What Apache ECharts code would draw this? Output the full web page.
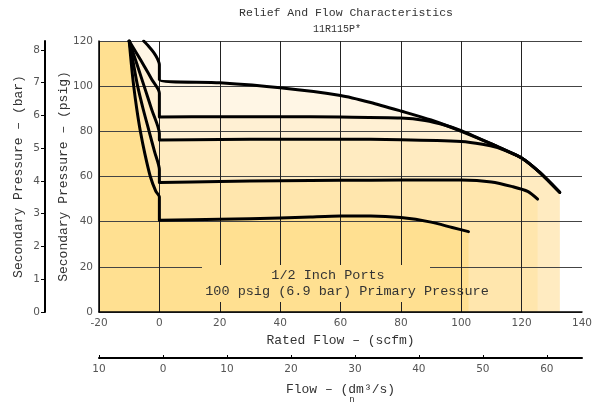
<!DOCTYPE html>
<html>
<head>
<meta charset="utf-8">
<script src="https://cdn.jsdelivr.net/npm/echarts@6/dist/echarts.min.js"></script>
<style>html,body{margin:0;padding:0;background:#fff}#c{width:603px;height:404px}</style>
</head>
<body>
<div id="c"></div>
<script>
// ---- data ----
const curveNames = ['102 psig', '86 psig', '76 psig', '58 psig', '40 psig'];
const flowTop  = [-5.2, -3.5, -1.9, -0.7, 0, 0, 20, 40, 60, 70, 80, 90, 100, 110, 120, 126, 132.6];
const psigTop  = [120, 117.6, 115, 112.3, 109.5, 102.8, 101.5, 99.3, 95.9, 92.8, 89, 85, 80, 74.4, 68.2, 61.8, 53];
const flow86   = [-10, -7.5, -5, -2.5, 0, 0, 20, 40, 60, 80, 88, 95, 100, 110, 120, 126, 132.6];
const psig86   = [120, 114.5, 108.8, 103, 97, 86.3, 86.5, 86.5, 86.3, 85.9, 84.8, 82.6, 80.3, 74.4, 68.2, 61.8, 53];
const flow76   = [-10, -7.5, -5, -2.5, 0, 0, 20, 40, 60, 80, 100, 107, 112, 116, 120, 126, 132.6];
const psig76   = [120, 110, 99.8, 89.5, 79, 76.2, 76.4, 76.5, 76.5, 76.3, 75.5, 74.3, 72.8, 70.7, 68.2, 61.8, 53];
const flow58   = [-10, -8.6, -7.2, -5.4, -3.4, -1.6, 0, 0, 20, 40, 60, 80, 100, 110, 117, 122, 125.3];
const psig58   = [120, 110, 100, 90, 80, 71, 63, 57.3, 57.8, 58.1, 58.3, 58.4, 58.4, 57.6, 55.5, 53.4, 50];
const flow40   = [-10, -9.3, -8.5, -7.5, -6.3, -4.8, -3, -1.2, 0, 0, 20, 40, 50, 60, 70, 80, 90, 97, 102.4];
const psig40   = [120, 110, 100, 90, 80, 70, 60, 53.5, 51, 40.6, 41.1, 41.6, 42.1, 42.5, 42.5, 41.8, 39.8, 37.4, 35.6];
const fillColors = ['#FFF6E5', '#FFF0D3', '#FFEBC1', '#FFE6AD', '#FFE091'];

const scfmTicks = [-20, 0, 20, 40, 60, 80, 100, 120, 140];
const psigTicks = [0, 20, 40, 60, 80, 100, 120];
const barTicks  = [0, 1, 2, 3, 4, 5, 6, 7, 8];
const dm3Ticks  = [-10, 0, 10, 20, 30, 40, 50, 60];
const PSI_PER_BAR = 14.5038;

// ---- build ----
const flows = [flowTop, flow86, flow76, flow58, flow40];
const psigs = [psigTop, psig86, psig76, psig58, psig40];
const pairs = (xs, ys) => xs.map((x, i) => [x, ys[i]]);

const mono = 'Liberation Mono';
const series = [];
flows.forEach((f, k) => {
  series.push({
    type: 'line', name: curveNames[k] + ' area', z: 1, silent: true,
    data: [[scfmTicks[0], psigTicks[psigTicks.length - 1]]].concat(pairs(f, psigs[k])),
    showSymbol: false, smooth: false,
    lineStyle: { width: 0, opacity: 0 },
    areaStyle: { color: fillColors[k], opacity: 1, origin: 'start' }
  });
});
flows.forEach((f, k) => {
  series.push({
    type: 'line', name: curveNames[k], z: 4, silent: true,
    data: pairs(f, psigs[k]),
    showSymbol: false, smooth: 0.25,
    lineStyle: { color: '#000', width: 3, join: 'round', cap: 'round' }
  });
});

const chart = echarts.init(document.getElementById('c'), null, { renderer: 'canvas' });
chart.setOption({
  animation: false,
  backgroundColor: '#fff',
  title: [
    { text: 'Relief And Flow Characteristics', left: 341, top: 2, textAlign: 'center',
      textStyle: { fontFamily: mono, fontSize: 11.5, fontWeight: 'normal', color: '#333' } },
    { text: '11R115P*', left: 332, top: 19, textAlign: 'center',
      textStyle: { fontFamily: mono, fontSize: 10, fontWeight: 'normal', color: '#333' } }
  ],
  grid: { left: 99, right: 21, top: 41, bottom: 92 },
  xAxis: [
    { type: 'value', min: scfmTicks[0], max: scfmTicks[scfmTicks.length - 1], interval: 20, z: 2,
      axisLine: { show: true, onZero: false, lineStyle: { color: '#000', width: 1.5 } },
      axisTick: { show: false },
      splitLine: { show: true, showMaxLine: false, lineStyle: { color: '#222', width: 1 } },
      axisLabel: { color: '#555', fontSize: 10.5, margin: 6, fontFamily: 'DejaVu Sans' },
      name: 'Rated Flow – (scfm)', nameLocation: 'middle', nameGap: 22, nameMoveOverlap: false,
      nameTextStyle: { fontFamily: mono, fontSize: 13, color: '#333' } },
    { type: 'value', position: 'bottom', offset: 46, min: dm3Ticks[0], max: 65.5,
      axisLine: { show: true, onZero: false, lineStyle: { color: '#000', width: 2 } },
      axisTick: { show: true, inside: true, length: 3, customValues: dm3Ticks, lineStyle: { color: '#000' } },
      splitLine: { show: false },
      axisLabel: { customValues: dm3Ticks, color: '#555', fontSize: 10.5, margin: 6, fontFamily: 'DejaVu Sans',
        formatter: v => String(Math.abs(v)) },
      name: 'Flow – (dm³/s)', nameLocation: 'middle', nameGap: 25, nameMoveOverlap: false,
      nameTextStyle: { fontFamily: mono, fontSize: 13, color: '#333' } }
  ],
  yAxis: [
    { type: 'value', min: psigTicks[0], max: psigTicks[psigTicks.length - 1], interval: 20, z: 2,
      axisLine: { show: true, onZero: false, lineStyle: { color: '#000', width: 1.5 } },
      axisTick: { show: false },
      splitLine: { show: true, lineStyle: { color: '#444', width: 1 } },
      axisLabel: { color: '#555', fontSize: 10.5, margin: 6, fontFamily: 'DejaVu Sans' },
      name: 'Secondary Pressure – (psig)', nameLocation: 'middle', nameGap: 29, nameMoveOverlap: false,
      nameTextStyle: { fontFamily: mono, fontSize: 13, color: '#333' } },
    { type: 'value', position: 'left', offset: 54, min: 0, max: psigTicks[psigTicks.length - 1] / PSI_PER_BAR,
      axisLine: { show: true, onZero: false, lineStyle: { color: '#000', width: 2 } },
      axisTick: { show: true, length: 4, customValues: barTicks, lineStyle: { color: '#000' } },
      splitLine: { show: false },
      axisLabel: { customValues: barTicks, color: '#555', fontSize: 10.5, margin: 5, fontFamily: 'DejaVu Sans' },
      name: 'Secondary Pressure – (bar)', nameLocation: 'middle', nameGap: 20, nameMoveOverlap: false,
      nameTextStyle: { fontFamily: mono, fontSize: 13, color: '#333' } }
  ],
  graphic: [
    { type: 'rect', z: 10, shape: { x: 202, y: 265, width: 228, height: 37 }, style: { fill: fillColors[4] } },
    { type: 'text', z: 11, x: 328, y: 275, style: { text: '1/2 Inch Ports', fill: '#333',
      font: '13.5px "Liberation Mono"', align: 'center', verticalAlign: 'middle' } },
    { type: 'text', z: 11, x: 347, y: 291, style: { text: '100 psig (6.9 bar) Primary Pressure', fill: '#333',
      font: '13.5px "Liberation Mono"', align: 'center', verticalAlign: 'middle' } },
    { type: 'text', z: 11, x: 352, y: 400, style: { text: 'n', fill: '#333',
      font: '9px "Liberation Mono"', align: 'center', verticalAlign: 'middle' } }
  ],
  series: series
});
</script>
</body>
</html>
